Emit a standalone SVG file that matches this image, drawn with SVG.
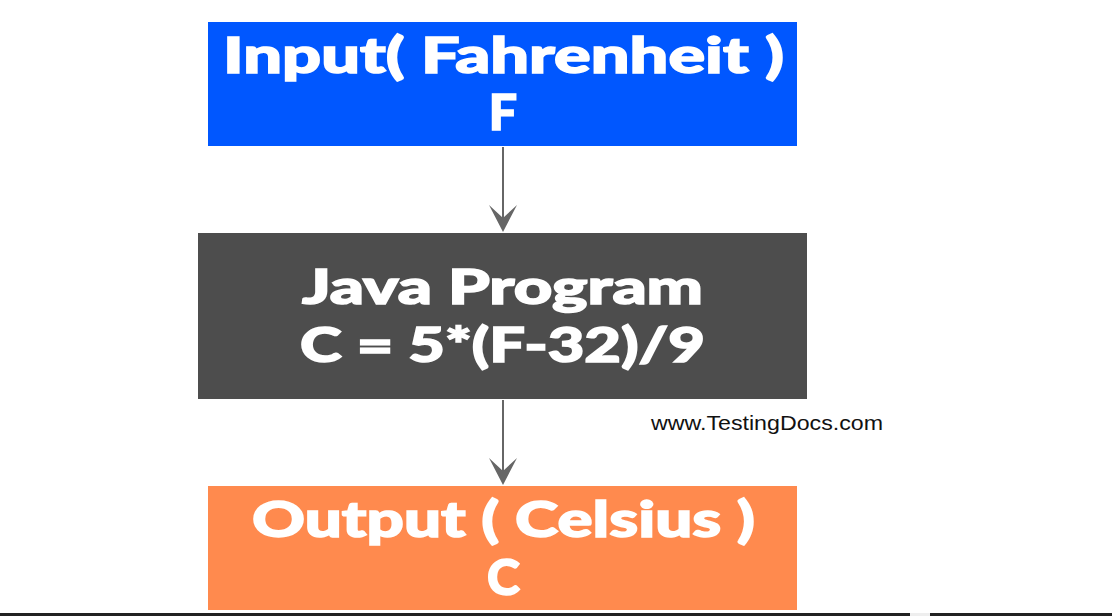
<svg xmlns="http://www.w3.org/2000/svg" width="1112" height="616" viewBox="0 0 1112 616">
<style>
.t{font-family:"Lato","Roboto","DejaVu Sans",sans-serif;font-weight:900;fill:#fff;stroke:#fff;stroke-width:1.5;text-anchor:middle}
.w{font-family:"Liberation Sans",Arial,sans-serif;font-size:20px;fill:#111}
.c{stroke:#666;stroke-width:2;fill:none}
.h{fill:#666}
</style>
<rect width="1112" height="616" fill="#fff"/>
<g id="connectors">
<line class="c" x1="503" y1="147" x2="503" y2="218"/>
<path class="h" d="M489,205 L503,232 L517,205 L503,218 Z"/>
<line class="c" x1="503" y1="400" x2="503" y2="471"/>
<path class="h" d="M489,458 L503,485 L517,458 L503,471 Z"/>
</g>
<g id="input">
<rect x="208" y="22" width="589" height="124" fill="#0057FF"/>
<text class="t" x="503.5" y="73" font-size="50" textLength="561" lengthAdjust="spacingAndGlyphs">Input( Fahrenheit )</text>
<text class="t" x="503" y="130" font-size="50">F</text>
</g>
<g id="program">
<rect x="198" y="233" width="609" height="166" fill="#4D4D4D"/>
<text class="t" x="502.5" y="304" font-size="48" textLength="401" lengthAdjust="spacingAndGlyphs">Java Program</text>
<text class="t" x="502.5" y="362" font-size="48" textLength="405" lengthAdjust="spacingAndGlyphs">C = 5*(F-32)/9</text>
</g>
<g id="output">
<rect x="208" y="486" width="589" height="124" fill="#FF8A4E"/>
<text class="t" x="503.5" y="537" font-size="50" textLength="503" lengthAdjust="spacingAndGlyphs">Output ( Celsius )</text>
<text class="t" x="503.5" y="595" font-size="50">C</text>
</g>
<text class="w" x="651" y="430" textLength="232" lengthAdjust="spacingAndGlyphs">www.TestingDocs.com</text>
<rect x="0" y="613" width="910" height="3" fill="#222"/>
<rect x="910" y="613" width="20" height="3" fill="#eee"/>
<rect x="930" y="613" width="182" height="3" fill="#222"/>
</svg>
